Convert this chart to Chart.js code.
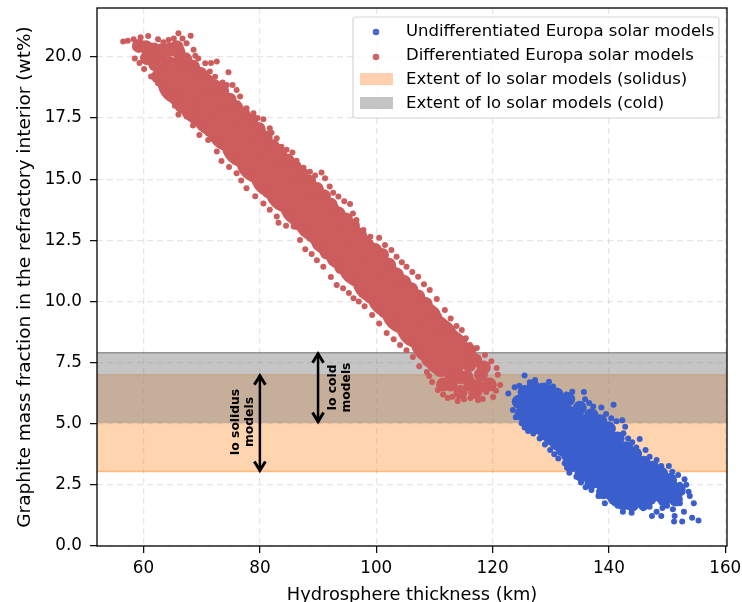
<!DOCTYPE html>
<html><head><meta charset="utf-8">
<script src="https://cdn.jsdelivr.net/npm/chart.js@4/dist/chart.umd.min.js"></script>
<style>html,body{margin:0;padding:0;background:#fff}canvas{display:block}</style></head>
<body><canvas id="c" width="742" height="602"></canvas>
<script>
const xTicks=[60,80,100,120,140,160];
const yTicks=[0,2.5,5,7.5,10,12.5,15,17.5,20];
const xRange=[52,160.3];
const yRange=[0,22];
const solidusExtent=[3.05,7.0];
const coldExtent=[5.05,7.9];
const legendLabels=["Undifferentiated Europa solar models","Differentiated Europa solar models","Extent of Io solar models (solidus)","Extent of Io solar models (cold)"];
const xTitle="Hydrosphere thickness (km)";
const yTitle="Graphite mass fraction in the refractory interior (wt%)";
// Differentiated Europa: edge samples of the cloud
const redEdge=[[56.5,20.63],[57.3,20.66],[58.3,20.72],[59.5,20.8],[60.8,20.86],[62.5,20.72],[63.4,20.6],[64.3,20.69],[65.2,20.75],[66,20.97],[66.7,20.75],[68.1,20.87],[67.4,20.56],[68.6,20.29],[69.4,19.94],[68.9,20.05],[70.6,19.74],[71.6,19.75],[72.6,19.81],[71.4,19.4],[72.3,19.19],[74.6,19.37],[73.6,18.95],[74.3,18.85],[75.3,18.85],[76,18.65],[76.6,18.38],[76.2,18.1],[77.7,17.9],[78.9,17.7],[79.6,17.5],[80.6,17.45],[81.7,17.08],[82,16.9],[82.9,16.67],[83.7,16.33],[84.6,16.2],[85.6,16.09],[86.3,15.75],[87.5,15.47],[88.6,15.3],[89.5,15.15],[90.6,15.27],[91.2,15.04],[92,14.7],[92.6,14.45],[93.5,14.29],[94.5,14.1],[95.5,13.99],[96,13.6],[96.6,13.33],[97.8,12.92],[99,12.65],[100.5,12.61],[101.5,12.31],[102.6,12.1],[103.5,11.83],[104.4,11.6],[105.2,11.42],[106.2,11.2],[107.2,11.01],[108.2,10.7],[109.2,10.47],[110.4,10.1],[111.8,9.65],[112.8,9.3],[113.8,9.0],[114.7,8.83],[115.4,8.5],[116.1,8.22],[117.3,8.1],[118.7,7.81],[119.8,7.55],[120.7,7.28],[120.9,7],[121.3,6.58],[120.6,6.35],[120.1,6.09],[118.9,6.3],[118.3,6.01],[117.5,5.97],[116.2,6.05],[115.1,6],[114,5.93],[113.1,6.1],[112.3,6.05],[111.5,6.2],[110.6,6.38],[109.6,6.71],[109.1,6.95],[108.7,7.12],[107.4,7.35],[106.3,7.73],[105.2,8.0],[104.1,8.22],[103,8.45],[101.8,8.71],[100.5,9.1],[99.3,9.45],[98,9.8],[97,10],[96.1,10.13],[95.3,10.35],[94.3,10.54],[93.2,10.67],[92.2,11.0],[90.9,11.42],[89.8,11.68],[88.9,11.94],[87.8,12.13],[86.9,12.51],[85.8,13.06],[84.5,13.1],[83.2,13.22],[82.9,13.47],[81.7,13.75],[80.6,14.01],[79.2,14.3],[77.7,14.63],[76.8,14.95],[76,15.24],[74.7,15.5],[73.4,15.74],[72.6,16.13],[71.1,16.6],[69.6,16.81],[68.5,17.2],[67.4,17.56],[66,17.65],[65.4,18.0],[64.8,18.38],[63.4,18.76],[62.5,18.92],[61.3,19.2],[60.1,19.51],[59.3,19.75],[58.5,19.93]];
const redMid=[[59.2,20.45],[60.4,20.4],[61.8,20.3],[63,20.25],[64.5,20.3],[65.7,20.4],[60.6,19.95],[62,19.7],[63.3,19.5],[64.6,19.25],[61.6,20.05],[63,19.9],[64.4,19.75],[65.6,19.7],[66,20.2],[68.5,19.6],[71,19.0],[73.5,18.6],[76,17.9],[78.5,17.4],[81,16.7],[83.5,16.0],[86,15.5],[88.5,14.9],[91,14.3],[93.5,13.6],[96,13.1],[98.5,12.3],[101,11.9],[103.5,11.1],[106,10.5],[108.5,9.9],[111,9.1],[113,8.6],[62.5,19.2],[64,18.9],[66.5,18],[69,17.5],[71.5,17],[74,16.5],[76.5,15.8],[79,15.2],[81.5,14.5],[84,14.0],[86.5,13.2],[89,12.7],[91.5,12.0],[94,11.4],[96.5,10.9],[99,10.2],[101.5,9.6],[104,9],[106.5,8.4],[109,7.6],[111,7.2],[114.5,8],[114.5,6.9],[116,7.4],[116.2,6.6],[118,7],[119.5,6.6],[112.8,6.6],[67.2,19.9],[69.8,19.3],[72.2,18.8],[74.8,18.25],[77.2,17.65],[79.8,17.05],[82.2,16.35],[84.8,15.75],[87.2,15.2],[89.8,14.6],[92.2,13.95],[94.8,13.35],[97.2,12.7],[99.8,12.1],[102.2,11.5],[104.8,10.8],[107.2,10.2],[109.8,9.5],[112,8.85],[65.2,18.45],[67.8,17.75],[70.2,17.25],[72.8,16.75],[75.2,16.15],[77.8,15.5],[80.2,14.85],[82.8,14.25],[85.2,13.6],[87.8,12.95],[90.2,12.35],[92.8,11.7],[95.2,11.15],[97.8,10.55],[100.2,9.9],[102.8,9.3],[105.2,8.7],[107.8,8.0],[110,7.4],[113,7.6],[115.5,6.9],[117.5,6.5],[115,7.6],[117,7.6],[113.5,7.2],[116,8],[118.5,7.3],[113,6.9],[111.5,6.6],[114.5,6.3],[117,6.3]];
const redCore=[[66.5,19],[68,18.7],[70,18.2],[72.5,17.7],[75,17.1],[77.5,16.45],[80,15.8],[82.5,15.2],[85,14.6],[87.5,14],[90,13.4],[92.5,12.8],[95,12.2],[97.5,11.55],[100,10.9],[102.5,10.3],[105,9.65],[107.5,9.05],[110,8.4],[112,7.9]];
// Undifferentiated Europa: edge samples of the cloud
const blueEdge=[[122.7,6.24],[123.8,6.49],[124.6,6.55],[125.5,6.97],[126.4,6.7],[127.3,6.79],[128.5,6.55],[129.7,6.72],[130.4,6.52],[131.6,6.24],[132.7,6.2],[133.7,6.31],[135.7,6.3],[135.9,6],[136.6,5.85],[137.3,5.7],[138.7,5.66],[140.8,5.78],[139.5,5.4],[140.4,5.22],[141.3,5.1],[142.3,5.14],[142.8,4.88],[142.5,4.61],[143.3,4.4],[144,4.24],[145.3,4.38],[144.7,4.03],[146.3,3.93],[147,3.65],[148.2,3.52],[149,3.27],[150.3,3.27],[150.9,3.04],[151.9,2.9],[153,2.73],[152.2,2.5],[153.3,2.5],[153.7,2.22],[152.6,2.2],[153.9,2.04],[154.6,1.75],[154.3,1.16],[155.4,1.04],[152.6,1],[151.2,1],[151.3,1.23],[152.9,1.4],[152.2,1.75],[151,1.5],[150,1.65],[149,1.23],[147.4,1.23],[148.2,1.4],[149.2,1.55],[147,1.6],[145.9,1.54],[144.8,1.75],[143.9,1.36],[142.4,1.4],[141.5,1.65],[141,1.75],[140,2],[139.3,1.75],[138.2,2.04],[137,2.29],[136,2.4],[135.2,2.6],[134.4,2.83],[133.2,3],[132.8,3.2],[132.4,3.38],[131.3,3.58],[130.6,3.75],[129.9,3.93],[129,4.15],[128.1,4.4],[127,4.6],[126.1,4.7],[125.5,4.85],[125,5.02],[124,5.26],[123.5,5.56],[124.2,5.9],[125.2,6.2]];
const blueMid=[[125.5,5.7],[127,6.2],[129.5,6.1],[132,5.65],[134.5,5.3],[137,4.95],[139.5,4.5],[142,3.9],[144.5,3.45],[147,2.95],[149,2.6],[126.5,5.1],[129,4.6],[131,4.2],[133,3.7],[135,3.2],[137,2.8],[139,2.5],[141,2.15],[143,1.95],[145,1.95],[147,1.95],[148.5,2.1],[150,2.3],[151.3,2.2],[150.5,2.7],[128.2,6.15],[130.8,5.85],[133.2,5.45],[135.8,5.1],[138.2,4.7],[140.8,4.2],[143.2,3.65],[145.8,3.2],[148,2.75],[127.8,4.85],[130,4.4],[132,3.95],[134,3.45],[136,3],[138,2.65],[140,2.3],[142,2.05],[144,1.95],[146,1.95],[146.5,2.4],[148,2.4],[147.5,2.8],[149.5,2.4],[126.5,5.8],[125,5.4],[127.5,5.4],[126,6],[129,6.4],[131,6.2],[133,6],[135,5.65],[137,5.35],[138.5,5.1],[140,4.8],[141.5,4.4],[143,4],[144.5,3.75],[146,3.4],[147.5,3.2],[149,2.95],[150.5,2.6],[152,2.3],[151.5,1.9],[149.5,1.9],[124.5,5.9],[125.5,6.3],[127,6.5],[127,4.9],[133.5,3.3],[135.3,2.9],[137,2.6],[139,2.2],[141,1.95],[142.5,1.75],[144,1.7],[146,1.75]];
const blueCore=[[129.5,5.3],[131.5,4.9],[133.5,4.55],[135.5,4.15],[137.5,3.8],[139.5,3.45],[141.5,3.1],[143.5,2.85],[145.5,2.65]];
const solidusArrow=[3.05,7.0];
const coldArrow=[5.05,7.9];
const solidusArrowX=80, coldArrowX=90;

const red='#cd5c5c', blue='#3a5fcd';
const pts=a=>a.map(p=>({x:p[0],y:p[1]}));
const span=(y)=>xRange.map(x=>({x,y}));
const vert=(x,ys)=>ys.map(y=>({x,y}));
const cloud=(a,c,r,o)=>({data:pts(a),pointRadius:r,pointBackgroundColor:c,pointBorderWidth:0,pointHoverRadius:r,order:o});
const band=(y,fill,bg,line,o)=>({data:span(y),showLine:true,pointRadius:0,borderWidth:1.5,borderColor:line,backgroundColor:bg,fill,order:o});
const data={datasets:[
 band(solidusExtent[0],1,'rgba(255,127,14,0.33)','rgba(255,127,14,0.45)',10),
 band(solidusExtent[1],false,'transparent','rgba(255,127,14,0.3)',10),
 band(coldExtent[0],3,'rgba(128,128,128,0.46)','rgba(128,128,128,0.3)',9),
 band(coldExtent[1],false,'transparent','rgba(110,110,110,0.7)',9),
 {data:vert(solidusArrowX,solidusArrow),showLine:true,pointRadius:0,borderColor:'#000',borderWidth:2.5,order:5},
 {data:vert(coldArrowX,coldArrow),showLine:true,pointRadius:0,borderColor:'#000',borderWidth:2.5,order:5},
 cloud(blueCore,blue,20,3),cloud(blueMid,blue,7,3),cloud(blueEdge,blue,3,2),
 cloud(redCore,red,24,3),cloud(redMid,red,7,3),cloud(redEdge,red,3,2)
]};
const decorate={id:'decorate',
 afterDatasetsDraw(ch){
  const {ctx,scales:{x,y}}=ch;
  ctx.save();ctx.strokeStyle='#000';ctx.lineWidth=3;ctx.lineCap='butt';ctx.lineJoin='miter';
  const head=(px,py,d)=>{ctx.beginPath();ctx.moveTo(px-5.5,py+d*9);ctx.lineTo(px,py);ctx.lineTo(px+5.5,py+d*9);ctx.stroke();};
  [[solidusArrowX,solidusArrow],[coldArrowX,coldArrow]].forEach(([ax,ys])=>{
   head(x.getPixelForValue(ax),y.getPixelForValue(ys[1])+1,1);
   head(x.getPixelForValue(ax),y.getPixelForValue(ys[0])-1,-1);
  });
  ctx.fillStyle='#000';ctx.font='bold 12.3px "DejaVu Sans"';ctx.textAlign='center';ctx.textBaseline='middle';
  const label=(dx,v,lines)=>{ctx.save();ctx.translate(x.getPixelForValue(dx),y.getPixelForValue(v));ctx.rotate(-Math.PI/2);
    ctx.fillText(lines[0],0,-7);ctx.fillText(lines[1],0,7);ctx.restore();};
  label(77.1,5.07,['Io solidus','models']);
  label(93.7,6.48,['Io cold','models']);
  ctx.restore();
 },
 afterDraw(ch){
  const {ctx,chartArea:a}=ch;
  ctx.save();ctx.strokeStyle='#000';ctx.lineWidth=1.3;ctx.strokeRect(a.left,a.top,a.right-a.left,a.bottom-a.top);
  // legend
  const bx=353,by=17,bw=366,bh=101;
  ctx.beginPath();ctx.roundRect(bx,by,bw,bh,3);ctx.fillStyle='rgba(255,255,255,0.8)';ctx.fill();ctx.strokeStyle='rgba(204,204,204,0.8)';ctx.lineWidth=1.2;ctx.stroke();
  const rows=[31,55,79,103];
  ctx.fillStyle='#4a6acb';ctx.beginPath();ctx.arc(376,rows[0]+1,3.3,0,7);ctx.fill();
  ctx.fillStyle='#d06464';ctx.beginPath();ctx.arc(376,rows[1]+2,3.3,0,7);ctx.fill();
  ctx.fillStyle='#ffd0b0';ctx.fillRect(360,rows[2]-6,33,12);
  ctx.fillStyle='#c4c4c4';ctx.fillRect(360,rows[3]-6,33,12);
  ctx.fillStyle='#000';ctx.font='16.5px "DejaVu Sans"';ctx.textAlign='left';ctx.textBaseline='middle';
  legendLabels.forEach((t,i)=>ctx.fillText(t,406,rows[i]+1));
  ctx.restore();
 }};
const axisCommon=(ticks,range)=>({type:'linear',min:range[0],max:range[1],
  border:{display:false,dash:[6,4]},
  grid:{color:'rgba(200,200,200,0.45)',lineWidth:1.3,tickColor:'#000',tickLength:7,tickWidth:1.2,tickBorderDash:[]},
  afterBuildTicks(s){s.ticks=ticks.map(v=>({value:v}));}
});
new Chart(document.getElementById('c'),{type:'scatter',data,plugins:[decorate],options:{
 responsive:false,animation:false,
 layout:{autoPadding:false,padding:{top:8,right:15,left:0,bottom:0}},
 plugins:{legend:{display:false},tooltip:{enabled:false}},
 scales:{
  x:{...axisCommon(xTicks,xRange),
    ticks:{color:'#000',font:{family:'DejaVu Sans',size:16.8},maxRotation:0,padding:6,callback:v=>String(v)},
    title:{display:true,text:xTitle,color:'#000',font:{family:'DejaVu Sans',size:17.8},padding:{top:6,bottom:-4}},
    afterFit(s){s.height=56;s.paddingLeft=0;s.paddingRight=0;}},
  y:{...axisCommon(yTicks,yRange),
    ticks:{color:'#000',font:{family:'DejaVu Sans',size:16.8},padding:8,callback:v=>v.toFixed(1)},
    title:{display:true,text:yTitle,color:'#000',font:{family:'DejaVu Sans',size:18.5},padding:{top:14,bottom:8}},
    afterFit(s){s.width=97;s.paddingTop=0;s.paddingBottom=0;}}
 }}});
</script></body></html>
